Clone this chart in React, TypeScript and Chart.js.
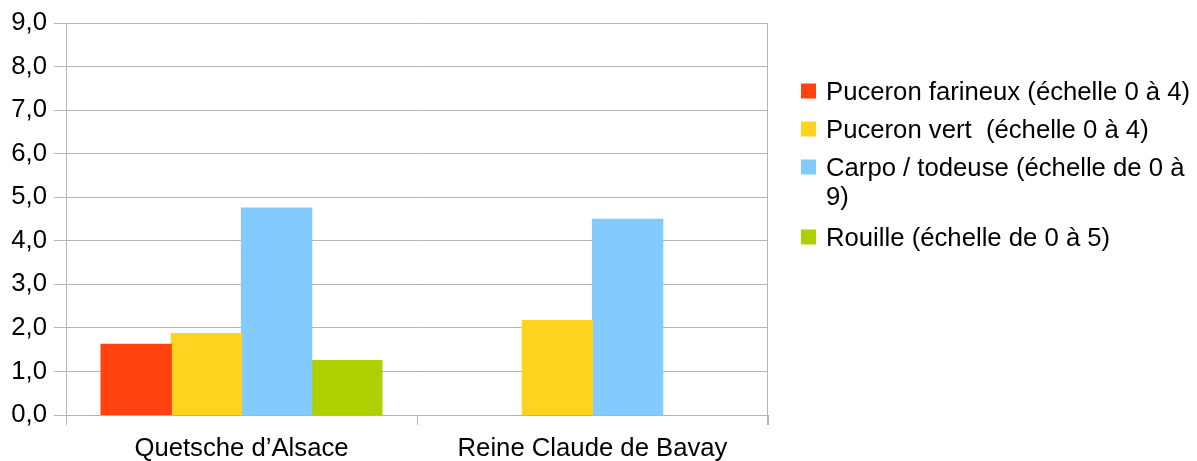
import React, { useEffect, useRef } from "react";
import { Chart, registerables } from "chart.js";

Chart.register(...registerables);

// Varieties on the x axis
const categories = ["Quetsche d\u2019Alsace", "Reine Claude de Bavay"];

// Pest / disease series (scores on their own scale)
const seriesLabels = [
  "Puceron farineux (échelle 0 à 4)",
  "Puceron vert  (échelle 0 à 4)",
  "Carpo / todeuse (échelle de 0 à 9)",
  "Rouille (échelle de 0 à 5)",
];
const pucerontFarineux: (number | null)[] = [1.62, null];
const pucerontVert: (number | null)[] = [1.87, 2.17];
const carpoTordeuse: (number | null)[] = [4.75, 4.49];
const rouille: (number | null)[] = [1.25, null];
const seriesColors = ["#ff420e", "#ffd320", "#83caff", "#aecf00"];

// Y axis range
const yMin = 0;
const yMax = 9;
const yStep = 1;

const FONT = "'Liberation Sans', Arial, sans-serif";
const FONT_SIZE = 25.7;
const GRID = "#b3b3b3";

// Draws the right-hand frame line and a legend that wraps long labels
const sideLegend = {
  id: "sideLegend",
  afterDraw(chart: any) {
    const { ctx, chartArea } = chart;
    ctx.save();
    ctx.strokeStyle = GRID;
    ctx.lineWidth = 1;
    const rx = Math.round(chartArea.right) - 0.5;
    ctx.beginPath();
    ctx.moveTo(rx, chartArea.top);
    ctx.lineTo(rx, chartArea.bottom + 10);
    ctx.stroke();

    const boxX = 801;
    const textX = 826;
    const maxW = 370;
    const box = 15;
    const lineH = 29;
    const rowGap = 38;
    ctx.font = `${FONT_SIZE}px ${FONT}`;
    ctx.textBaseline = "alphabetic";
    ctx.textAlign = "left";
    let cy = 91;
    chart.data.datasets.forEach((ds: any) => {
      const words = String(ds.label).split(" ");
      const lines: string[] = [];
      let cur = "";
      for (let i = 0; i < words.length; i++) {
        const w = words[i];
        const trial = i === 0 ? w : cur + " " + w;
        if (cur !== "" && ctx.measureText(trial).width > maxW) {
          lines.push(cur);
          cur = w;
        } else {
          cur = trial;
        }
      }
      lines.push(cur);
      ctx.fillStyle = ds.backgroundColor;
      ctx.fillRect(boxX, cy - box / 2, box, box);
      ctx.fillStyle = "#000000";
      lines.forEach((ln, i) => {
        ctx.fillText(ln, textX, cy + 9 + i * lineH);
      });
      cy += rowGap + (lines.length - 1) * (lineH + 3);
    });
    ctx.restore();
  },
};

export default function App() {
  const ref = useRef<HTMLCanvasElement | null>(null);

  useEffect(() => {
    document.body.style.margin = "0";
    const canvas = ref.current;
    if (!canvas) return;
    const seriesData = [pucerontFarineux, pucerontVert, carpoTordeuse, rouille];
    const chart = new Chart(canvas, {
      type: "bar",
      data: {
        labels: categories,
        datasets: seriesLabels.map((label, i) => ({
          label,
          data: seriesData[i],
          backgroundColor: seriesColors[i],
          borderWidth: 0,
          inflateAmount: 0.6,
          categoryPercentage: 0.8,
          barPercentage: 1.0,
        })),
      },
      options: {
        animation: false,
        responsive: false,
        devicePixelRatio: 1,
        layout: { padding: { left: 0, right: 429, top: 23, bottom: 0 } },
        plugins: {
          legend: { display: false },
          tooltip: { enabled: false },
        },
        scales: {
          x: {
            offset: true,
            grid: {
              offset: true,
              drawOnChartArea: false,
              drawTicks: true,
              tickLength: 10,
              color: GRID,
              lineWidth: 1,
            },
            border: { display: true, color: GRID },
            ticks: {
              color: "#000000",
              padding: 8,
              font: { family: FONT, size: FONT_SIZE },
              maxRotation: 0,
            },
            afterFit(scale: any) {
              scale.height = 46;
            },
          },
          y: {
            min: yMin,
            max: yMax,
            grid: {
              color: GRID,
              lineWidth: 1,
              tickLength: 12,
            },
            border: { display: true, color: GRID },
            ticks: {
              stepSize: yStep,
              color: "#000000",
              padding: 7,
              font: { family: FONT, size: FONT_SIZE },
              callback: (v: any) => Number(v).toFixed(1).replace(".", ","),
            },
            afterFit(scale: any) {
              scale.width = 66;
            },
          },
        },
      },
      plugins: [sideLegend],
    });
    return () => chart.destroy();
  }, []);

  return (
    <div style={{ position: "absolute", left: 0, top: 0, width: 1197, height: 461, background: "#ffffff" }}>
      <canvas ref={ref} width={1197} height={461} style={{ width: 1197, height: 461, display: "block" }} />
    </div>
  );
}
